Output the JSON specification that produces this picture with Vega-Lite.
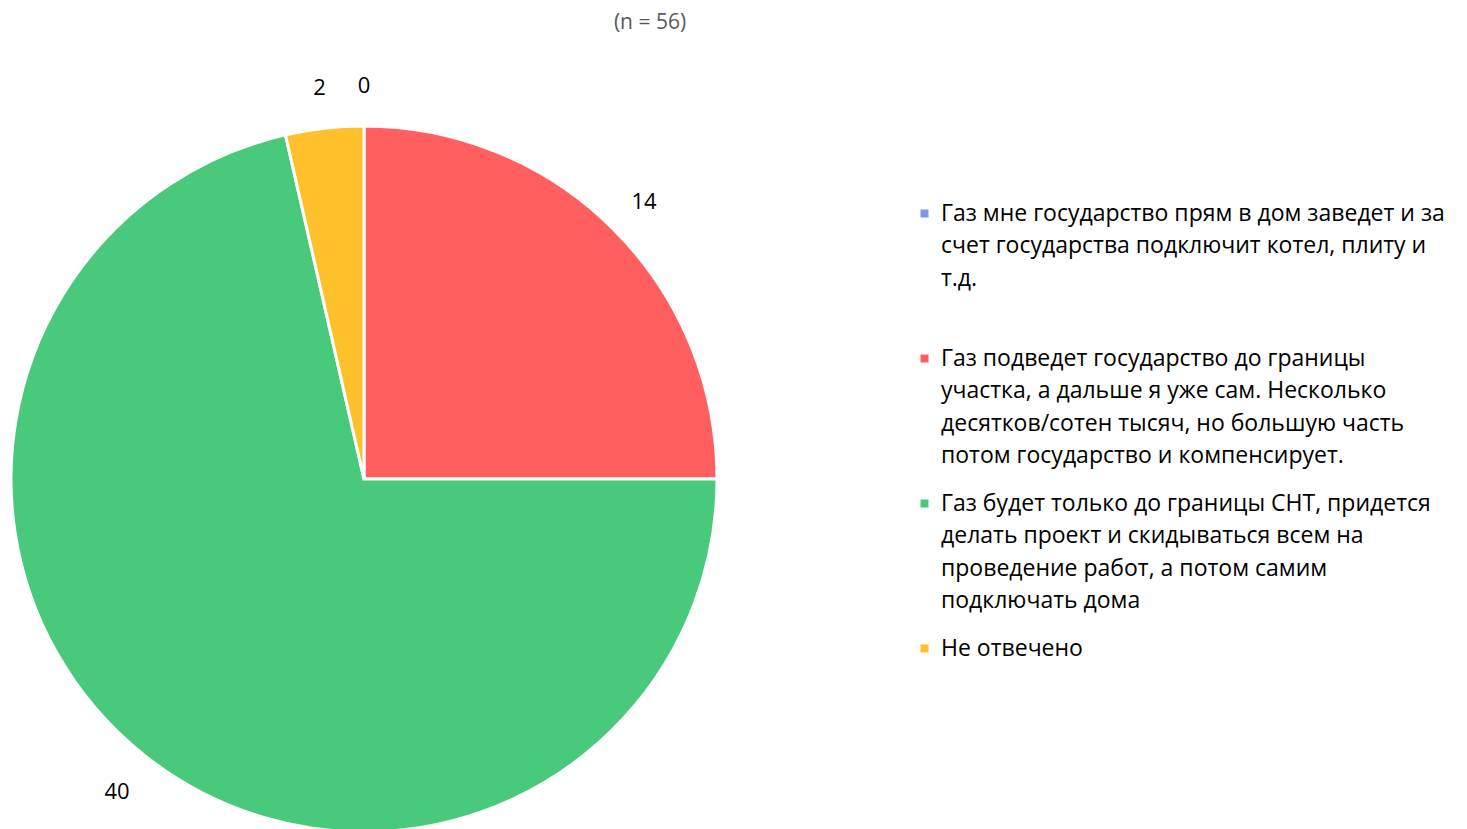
{
  "$schema": "https://vega.github.io/schema/vega-lite/v6.json",
  "autosize": "none",
  "width": 728,
  "height": 706,
  "padding": {"left": 0, "top": 126, "right": 739, "bottom": 0},
  "background": "white",
  "title": {
    "text": "(n = 56)",
    "anchor": "middle",
    "dx": 286,
    "offset": 42,
    "font": "Open Sans",
    "fontSize": 21,
    "fontWeight": "normal",
    "color": "#595959"
  },
  "config": {
    "view": {"stroke": null},
    "font": "Open Sans",
    "style": {"guide-label": {"lineHeight": 32.5}}
  },
  "data": {
    "values": [
      {"idx": 1, "answer": "Газ мне государство прям в дом заведет и за\nсчет государства подключит котел, плиту и\nт.д.", "count": 0},
      {"idx": 2, "answer": "Газ подведет государство до границы\nучастка, а дальше я уже сам. Несколько\nдесятков/сотен тысяч, но большую часть\nпотом государство и компенсирует.", "count": 14},
      {"idx": 3, "answer": "Газ будет только до границы СНТ, придется\nделать проект и скидываться всем на\nпроведение работ, а потом самим\nподключать дома", "count": 40},
      {"idx": 4, "answer": "Не отвечено", "count": 2}
    ]
  },
  "encoding": {
    "theta": {"field": "count", "type": "quantitative", "stack": true},
    "order": {"field": "idx", "type": "quantitative"}
  },
  "layer": [
    {
      "mark": {"type": "arc", "outerRadius": 353, "stroke": "white", "strokeWidth": 3},
      "encoding": {
        "color": {
          "field": "answer",
          "type": "nominal",
          "sort": {"field": "idx"},
          "scale": {"range": ["#7C99E0", "#FF5F5F", "#49C97B", "#FFC12B"]},
          "legend": {
            "title": null,
            "orient": "none",
            "legendX": 913,
            "legendY": 76,
            "symbolType": "square",
            "symbolSize": 64,
            "symbolStrokeWidth": 0,
            "labelFont": "Open Sans",
            "labelFontSize": 23,
            "labelColor": "#000000",
            "labelLimit": 700,
            "labelExpr": "split(datum.label, '\\n')",
            "labelOffset": 5,
            "rowPadding": 24,
            "gridAlign": "all",
            "columns": 1
          }
        }
      }
    },
    {
      "mark": {"type": "text", "radius": 396, "dy": 3, "fontSize": 22, "font": "Open Sans", "color": "#000000"},
      "encoding": {
        "text": {"field": "count", "type": "quantitative"}
      }
    }
  ]
}
